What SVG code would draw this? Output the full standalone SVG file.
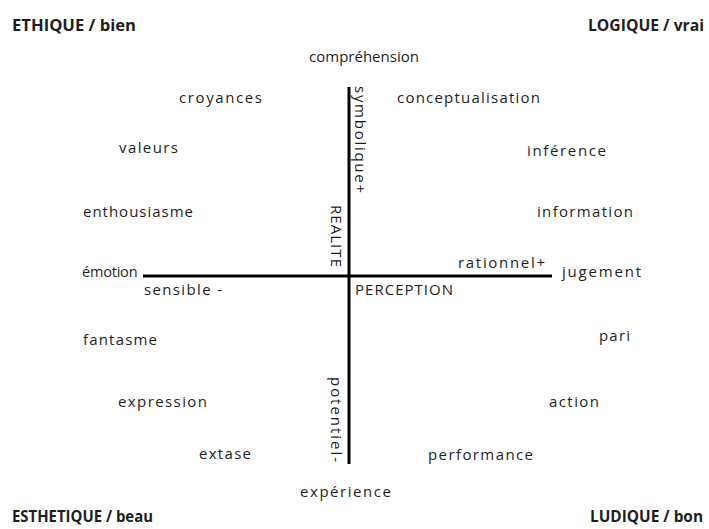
<svg xmlns="http://www.w3.org/2000/svg" width="709" height="529" viewBox="0 0 709 529">
<style>
text{font-family:"Open Sans","Liberation Sans",sans-serif;font-size:15px;fill:#1e1e1e}
.h{font-weight:bold;font-size:16px}
.t{font-size:14.5px;letter-spacing:-0.2px}
.axis{stroke:#000;stroke-width:3;fill:none}
</style>
<rect width="709" height="529" fill="#fff"/>
<g id="connectors">
<line class="axis" x1="349" y1="87" x2="349" y2="464"/>
<line class="axis" x1="143" y1="276" x2="552" y2="276"/>
</g>
<g id="ethique"><text class="h" x="12" y="31" textLength="124" lengthAdjust="spacingAndGlyphs">ETHIQUE / bien</text></g>
<g id="logique"><text class="h" x="588" y="31" textLength="116" lengthAdjust="spacingAndGlyphs">LOGIQUE / vrai</text></g>
<g id="esthetique"><text class="h" x="12" y="522" textLength="141" lengthAdjust="spacingAndGlyphs">ESTHETIQUE / beau</text></g>
<g id="ludique"><text class="h" x="590" y="522" textLength="113" lengthAdjust="spacingAndGlyphs">LUDIQUE / bon</text></g>
<g id="comprehension"><text x="364" y="62" text-anchor="middle">compréhension</text></g>
<g id="croyances"><text x="179" y="103" textLength="83">croyances</text></g>
<g id="conceptualisation"><text x="397" y="103" textLength="143">conceptualisation</text></g>
<g id="valeurs"><text x="119" y="153" textLength="59">valeurs</text></g>
<g id="inference"><text x="527" y="156" textLength="79">inférence</text></g>
<g id="enthousiasme"><text x="83" y="217" textLength="110">enthousiasme</text></g>
<g id="information"><text x="537" y="217" textLength="96">information</text></g>
<g id="emotion"><text class="t" x="82" y="277">émotion</text></g>
<g id="jugement"><text x="562" y="277" textLength="79">jugement</text></g>
<g id="rationnel"><text x="458" y="268" textLength="87">rationnel+</text></g>
<g id="sensible"><text x="144" y="295" textLength="78">sensible -</text></g>
<g id="perception"><text x="355" y="295" textLength="98">PERCEPTION</text></g>
<g id="symbolique"><text transform="translate(355,86) rotate(90)" x="0" y="0" textLength="107">symbolique+</text></g>
<g id="realite"><text transform="translate(331,205) rotate(90)" x="0" y="0" textLength="62">REALITE</text></g>
<g id="potentiel"><text transform="translate(331,377) rotate(90)" x="0" y="0" textLength="85">potentiel-</text></g>
<g id="fantasme"><text x="83" y="345" textLength="74">fantasme</text></g>
<g id="pari"><text x="599" y="341" textLength="31">pari</text></g>
<g id="expression"><text x="118" y="407" textLength="89">expression</text></g>
<g id="action"><text x="549" y="407" textLength="50">action</text></g>
<g id="extase"><text x="199" y="459" textLength="52">extase</text></g>
<g id="performance"><text x="428" y="460" textLength="105">performance</text></g>
<g id="experience"><text x="300" y="497" textLength="91">expérience</text></g>
</svg>
